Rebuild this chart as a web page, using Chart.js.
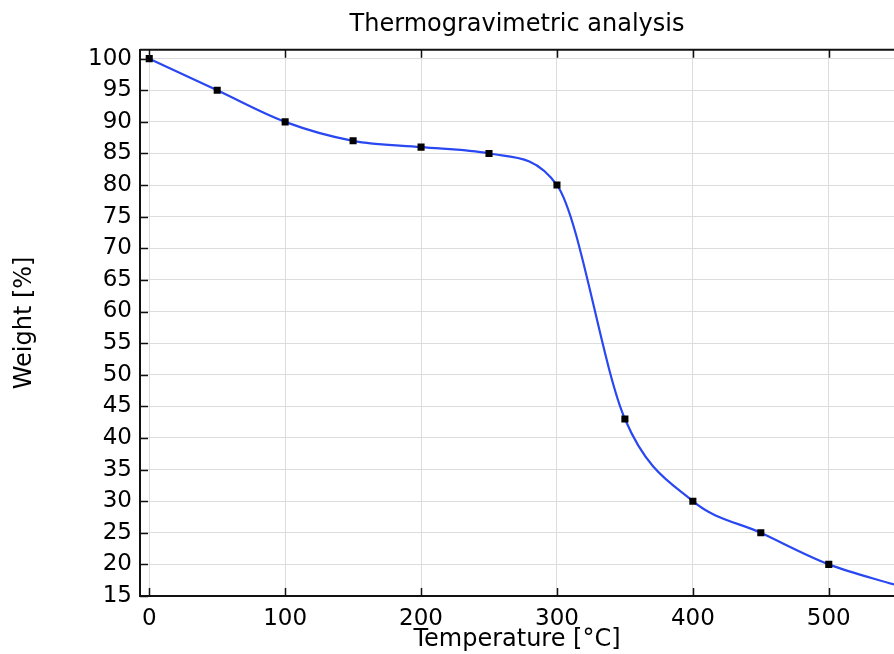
<!DOCTYPE html>
<html>
<head>
<meta charset="utf-8">
<script src="https://cdn.jsdelivr.net/npm/chart.js@4"></script>
<style>
  html, body { margin: 0; padding: 0; background: #fff; }
  #wrap { width: 894px; height: 654px; }
</style>
</head>
<body>
<div id="wrap"><canvas id="tga"></canvas></div>
<script>
// temperature (°C) and weight (%)
const temps   = [0, 50, 100, 150, 200, 250, 300, 350, 400, 450, 500, 550];
const weights = [100, 95, 90, 87, 86, 85, 80, 43, 30, 25, 20, 16.7];
const xTicks  = [0, 100, 200, 300, 400, 500];
const yTicks  = [15, 20, 25, 30, 35, 40, 45, 50, 55, 60, 65, 70, 75, 80, 85, 90, 95, 100];

const FONT = 'DejaVu Sans';

// inward tick marks + top frame line, like the original plot
const frame = {
  id: 'frame',
  afterDraw(chart) {
    const { ctx, chartArea: a, scales } = chart;
    ctx.save();
    ctx.strokeStyle = '#111';
    ctx.lineWidth = 2;
    ctx.beginPath();
    ctx.moveTo(a.left, a.top);
    ctx.lineTo(a.right, a.top);
    ctx.stroke();
    ctx.lineWidth = 1.5;
    xTicks.forEach(v => {
      const px = Math.round(scales.x.getPixelForValue(v)) + 0.5;
      ctx.beginPath();
      ctx.moveTo(px, a.bottom); ctx.lineTo(px, a.bottom - 8);
      ctx.moveTo(px, a.top); ctx.lineTo(px, a.top + 8);
      ctx.stroke();
    });
    yTicks.forEach(v => {
      const py = Math.round(scales.y.getPixelForValue(v)) + 0.5;
      ctx.beginPath();
      ctx.moveTo(a.left, py); ctx.lineTo(a.left + 8, py);
      ctx.stroke();
    });
    ctx.restore();
  }
};

new Chart(document.getElementById('tga'), {
  type: 'line',
  data: {
    datasets: [{
      data: temps.map((t, i) => ({ x: t, y: weights[i] })),
      borderColor: '#2a48f2',
      borderWidth: 2.2,
      cubicInterpolationMode: 'monotone',
      pointStyle: 'rect',
      pointRadius: ctx => ctx.dataIndex < temps.length - 1 ? 5 : 0,
      pointBackgroundColor: '#000',
      pointBorderColor: '#000',
      pointBorderWidth: 0,
      fill: false
    }]
  },
  options: {
    responsive: true,
    maintainAspectRatio: false,
    animation: false,
    layout: { padding: 0, autoPadding: false },
    plugins: {
      legend: { display: false },
      tooltip: { enabled: false },
      title: {
        display: true,
        fullSize: false,
        text: 'Thermogravimetric analysis',
        color: '#000',
        font: { family: FONT, size: 24, weight: 'normal' },
        padding: { top: 10, bottom: 11 }
      }
    },
    scales: {
      x: {
        type: 'linear',
        min: -6.8,
        max: 548,
        afterFit: s => { s.height = 58; s.paddingLeft = 0; s.paddingRight = 0; },
        afterBuildTicks: s => { s.ticks = xTicks.map(v => ({ value: v })); },
        ticks: {
          color: '#000',
          padding: 9,
          maxRotation: 0,
          font: { family: FONT, size: 23 }
        },
        grid: { color: '#dcdcdc', drawTicks: false },
        border: { color: '#111', width: 2 },
        title: {
          display: true,
          text: 'Temperature [°C]',
          color: '#000',
          font: { family: FONT, size: 24 },
          padding: { top: 0, bottom: 0 }
        }
      },
      y: {
        type: 'linear',
        min: 15,
        max: 101.4,
        afterFit: s => { s.width = 140; s.paddingTop = 0; s.paddingBottom = 0; },
        afterBuildTicks: s => { s.ticks = yTicks.map(v => ({ value: v })); },
        ticks: {
          color: '#000',
          padding: 8,
          font: { family: FONT, size: 23 }
        },
        grid: { color: '#dcdcdc', drawTicks: false },
        border: { color: '#111', width: 2 },
        title: {
          display: true,
          text: 'Weight [%]',
          color: '#000',
          font: { family: FONT, size: 24 },
          padding: { top: 10, bottom: 0 }
        }
      }
    }
  },
  plugins: [frame]
});
</script>
</body>
</html>
